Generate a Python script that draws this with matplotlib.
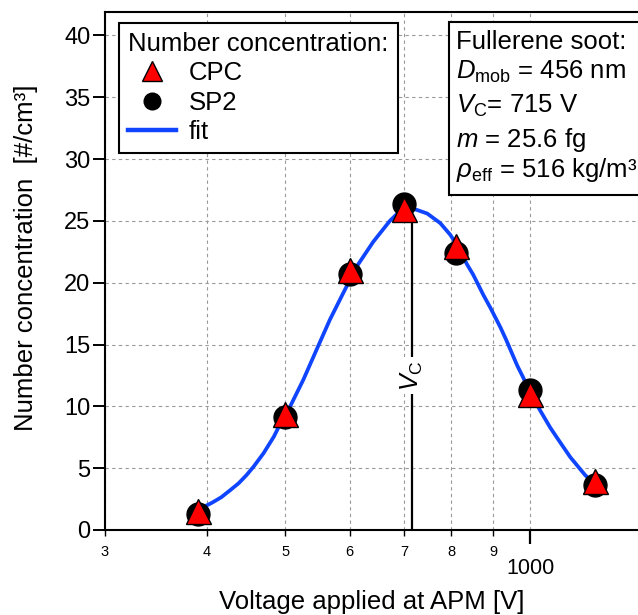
import matplotlib
matplotlib.use('Agg')
import matplotlib.pyplot as plt
from matplotlib.patches import Rectangle
from matplotlib.lines import Line2D

plt.rcParams['font.family'] = ['Liberation Sans', 'DejaVu Sans']
plt.rcParams['mathtext.fontset'] = 'custom'
plt.rcParams['mathtext.rm'] = 'Liberation Sans'
plt.rcParams['mathtext.it'] = 'Liberation Sans:italic'

# measured points
voltage = [390, 500, 600, 700, 810, 1000, 1200]
cpc = [1.5, 9.4, 21.0, 26.0, 23.0, 11.0, 4.0]
sp2 = [1.3, 9.1, 20.7, 26.4, 22.4, 11.3, 3.6]

# fit curve
fit_v = [395, 406, 417, 428, 438, 448, 457, 470, 484, 492, 502, 526, 546, 567, 589,
         612, 641, 672, 691, 712, 725, 747, 775, 797, 812, 836, 851, 876, 893, 919,
         934, 964, 981, 1000, 1028, 1058, 1078, 1120, 1168, 1196]
fit_n = [1.8, 2.2, 2.65, 3.24, 3.78, 4.45, 5.13, 6.21, 7.56, 8.5, 9.45, 12.15, 14.57, 17.0, 19.17,
         21.32, 23.3, 25.0, 25.77, 26.0, 25.9, 25.6, 24.83, 23.9, 23.1, 21.5, 20.65, 19.0, 18.0, 16.4,
         15.4, 13.3, 12.3, 11.1, 9.7, 8.3, 7.5, 5.9, 4.45, 3.8]

vc = 715
vc_top = 26.0
vc_label_n = 12.5

minor_v = [300, 400, 500, 600, 700, 800, 900]
minor_lab = ['3', '4', '5', '6', '7', '8', '9']
info = ['Fullerene soot:',
        r'$D_\mathrm{mob}$ = 456 nm',
        r'$V_\mathrm{C}$= 715 V',
        r'$m$ = 25.6 fg',
        r'$\rho_\mathrm{eff}$ = 516 kg/m³']
info_base = [49, 79, 113, 147, 177]

W, H = 638, 615
fig = plt.figure(figsize=(W/100, H/100), dpi=100)
ax = fig.add_axes([105/W, (H-530)/H, 1-105/W, (530-12)/H])

blue = '#0f45ff'
ax.plot(fit_v, fit_n, color=blue, lw=2.7, zorder=3, solid_capstyle='round')
ax.vlines(vc, 0, vc_top, color='black', lw=1.6, zorder=2)
ax.text(vc, vc_label_n, r'$V_\mathrm{C}$', rotation=90, ha='center', va='center',
        fontsize=18, zorder=4, bbox=dict(facecolor='white', edgecolor='none', pad=2))
ax.plot(voltage, sp2, 'o', ms=16.5, mfc='black', mec='black', zorder=5)
ax.plot(voltage, cpc, '^', ms=18, mfc='red', mec='black', mew=1, zorder=6)

ax.set_xscale('log')
ax.set_xlim(300, 1357)
ax.set_ylim(0, 41.9)
ax.set_xticks([1000], ['1000'])
ax.set_xticks(minor_v, minor_lab, minor=True)
ax.set_yticks(range(0, 41, 5))

ax.grid(which='both', axis='x', ls=(0, (3, 3)), color='#999999', lw=0.8)
ax.grid(which='major', axis='y', ls=(0, (3, 3)), color='#999999', lw=0.8)
ax.set_axisbelow(True)

for s in ['left', 'bottom', 'top']:
    ax.spines[s].set_linewidth(1.5)
ax.spines['right'].set_visible(False)

ax.tick_params(axis='y', direction='out', length=9, width=1.4, labelsize=17, pad=1.5)
ax.tick_params(axis='x', which='major', direction='out', length=10, width=1.6, labelsize=15.5, pad=10)
ax.tick_params(axis='x', which='minor', direction='out', length=4, width=1.0, labelsize=10.5, pad=6.5)

ax.set_xlabel('Voltage applied at APM [V]', fontsize=18.5, labelpad=8)
ax.set_ylabel('Number concentration  [#/cm³]', fontsize=18.5)
ax.yaxis.set_label_coords((38-105)/533, (530-258)/518)

handles = [Line2D([], [], marker='^', ls='none', ms=14, mfc='red', mec='black'),
           Line2D([], [], marker='o', ls='none', ms=12, mfc='black', mec='black'),
           Line2D([], [], color=blue, lw=3.2)]
leg = ax.legend(handles, ['CPC', 'SP2', 'fit'], title='Number concentration:',
                loc='upper left', bbox_to_anchor=(119/W, 1-23/H), bbox_transform=fig.transFigure,
                borderaxespad=0, fontsize=18.5, title_fontsize=18.5, alignment='left',
                fancybox=False, framealpha=1, edgecolor='black', handlelength=1.85,
                borderpad=0.36, labelspacing=0.2, handletextpad=0.5)
leg.get_frame().set_linewidth(1.5)
leg.set_zorder(10)

box = Rectangle((449/W, 1-195/H), 0.4, (195-22)/H, transform=fig.transFigure,
                facecolor='white', edgecolor='black', lw=1.5, clip_on=False, zorder=10)
fig.add_artist(box)
for s, yb in zip(info, info_base):
    fig.text(456/W, 1-yb/H, s, fontsize=18.5, va='baseline', ha='left', zorder=11)

fig.savefig('out.png', dpi=100)
